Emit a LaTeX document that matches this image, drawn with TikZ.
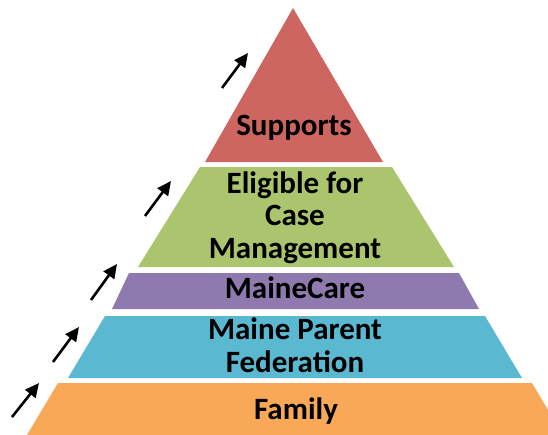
\documentclass[tikz,border=0pt]{standalone}
\usepackage{fontspec}
\setmainfont{Carlito}
\usetikzlibrary{arrows.meta}
\definecolor{supred}{RGB}{205,101,96}
\definecolor{casegreen}{RGB}{171,197,110}
\definecolor{carepurple}{RGB}{143,122,176}
\definecolor{parentblue}{RGB}{90,184,209}
\definecolor{familyorange}{RGB}{249,168,88}
\begin{document}
\begin{tikzpicture}[x=1pt,y=-1pt,
level node/.style = {font=\bfseries\fontsize{31}{32.5}\selectfont, align=center, anchor=base, inner sep=0pt},
step arrow/.style = {-{Triangle[length=14pt,width=13pt]}, line width=2.6pt}]
\clip (0,0) rectangle (548,434);

% pyramid layers
\fill[supred] (293,8) -- (383,162) -- (205,162) -- cycle;
\fill[casegreen] (200,167) -- (392,167) -- (454,267) -- (138,267) -- cycle;
\fill[carepurple] (129,273) -- (459,273) -- (479,309) -- (112,309) -- cycle;
\fill[parentblue] (105,316) -- (485,316) -- (522,378) -- (68,378) -- cycle;
\fill[familyorange] (58,383) -- (532,383) -- (566,440) -- (24,440) -- cycle;

\node[level node] (1) at (294,135) {Supports};
\node[level node] (2) at (295,258) {Eligible for\\Case\\Management};
\node[level node] (3) at (295,298) {MaineCare};
\node[level node] (4) at (295,372) {Maine Parent\\Federation};
\node[level node] (5) at (296,419) {Family};

% arrows up the side
\coordinate (t1) at (222,88);  \coordinate (h1) at (248,53);
\coordinate (t2) at (145,216); \coordinate (h2) at (171,181);
\coordinate (t3) at (91,300);  \coordinate (h3) at (117,264);
\coordinate (t4) at (53,362);  \coordinate (h4) at (79,327);
\coordinate (t5) at (12,417);  \coordinate (h5) at (39,383);

\path[step arrow]
(t1) edge (h1)
(t2) edge (h2)
(t3) edge (h3)
(t4) edge (h4)
(t5) edge (h5);
\end{tikzpicture}
\end{document}
